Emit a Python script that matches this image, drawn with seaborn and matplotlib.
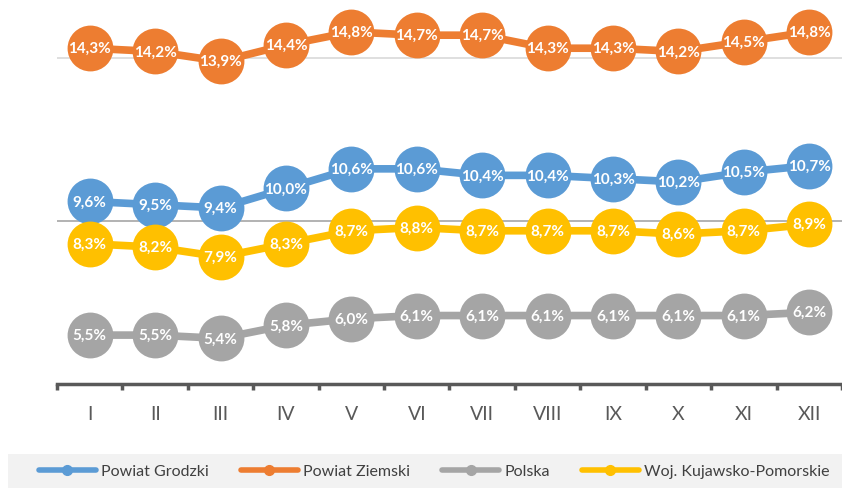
import matplotlib
matplotlib.use("Agg")
import matplotlib.pyplot as plt
import matplotlib.patches as mpatches
import seaborn as sns
import pandas as pd

months = ["I", "II", "III", "IV", "V", "VI", "VII", "VIII", "IX", "X", "XI", "XII"]
powiat_grodzki = [9.6, 9.5, 9.4, 10.0, 10.6, 10.6, 10.4, 10.4, 10.3, 10.2, 10.5, 10.7]
powiat_ziemski = [14.3, 14.2, 13.9, 14.4, 14.8, 14.7, 14.7, 14.3, 14.3, 14.2, 14.5, 14.8]
polska = [5.5, 5.5, 5.4, 5.8, 6.0, 6.1, 6.1, 6.1, 6.1, 6.1, 6.1, 6.2]
woj_kp = [8.3, 8.2, 7.9, 8.3, 8.7, 8.8, 8.7, 8.7, 8.7, 8.6, 8.7, 8.9]

series_names = ["Powiat Grodzki", "Powiat Ziemski", "Polska", "Woj. Kujawsko-Pomorskie"]
series_values = [powiat_grodzki, powiat_ziemski, polska, woj_kp]
colors = ["#5b9bd5", "#ed7d31", "#a5a5a5", "#ffc000"]

rows = []
for name, vals in zip(series_names, series_values):
    for i, (m, v) in enumerate(zip(months, vals)):
        rows.append({"idx": i, "miesiac": m, "seria": name, "wartosc": v})
df = pd.DataFrame(rows)

sns.set_theme(style="white")
plt.rcParams["font.family"] = ["Lato", "DejaVu Sans"]

fig = plt.figure(figsize=(8.42, 4.89), dpi=100)
ax = fig.add_axes([57 / 842, 1 - 385 / 489, 1 - 57 / 842, 385 / 489])

# gridlines
ax.axhline(14, color="#d9d9d9", lw=1.2, zorder=0)
ax.axhline(9, color="#a6a6a6", lw=1.2, zorder=0)

sns.lineplot(data=df, x="idx", y="wartosc", hue="seria", palette=colors,
             hue_order=series_names, marker="o", markersize=33, lw=5.5,
             markeredgewidth=0, ax=ax, legend=False, sort=False)

for name, vals in zip(series_names, series_values):
    for i, v in enumerate(vals):
        ax.text(i, v, f"{v:.1f}%".replace(".", ","), ha="center", va="center",
                color="white", fontsize=11, fontweight="bold", zorder=10)

ax.set_xlim(-0.5, len(months) - 0.5)
ax.set_ylim(4, 15.81)
ax.set_xticks(range(len(months)))
ax.set_xticklabels(months, fontsize=14, color="#595959")
ax.set_yticks([])
ax.set_xlabel("")
ax.set_ylabel("")
for s in ["top", "right", "left"]:
    ax.spines[s].set_visible(False)
ax.spines["bottom"].set_color("#595959")
ax.spines["bottom"].set_linewidth(2.5)
ax.tick_params(axis="x", length=0, pad=15)
# category boundary ticks
for b in range(len(months) + 1):
    ax.plot([b - 0.5, b - 0.5], [4, 3.82], color="#595959", lw=2.5,
            clip_on=False, solid_capstyle="butt")

# legend background
fig.patches.append(mpatches.Rectangle((8 / 842, 0), 1, 34 / 489, transform=fig.transFigure,
                                      facecolor="#f2f2f2", edgecolor="none", zorder=0))
handles = [plt.Line2D([0], [0], color=c, lw=4, marker="o", markersize=7,
                      solid_capstyle="round") for c in colors]
leg = fig.legend(handles, series_names, loc="center", bbox_to_anchor=(434 / 842, 17 / 489),
                 ncol=4, frameon=False, fontsize=11.5, handlelength=3.6,
                 columnspacing=2.0, handletextpad=0.3)
for t in leg.get_texts():
    t.set_color("#404040")

fig.savefig("out.png", dpi=100)
